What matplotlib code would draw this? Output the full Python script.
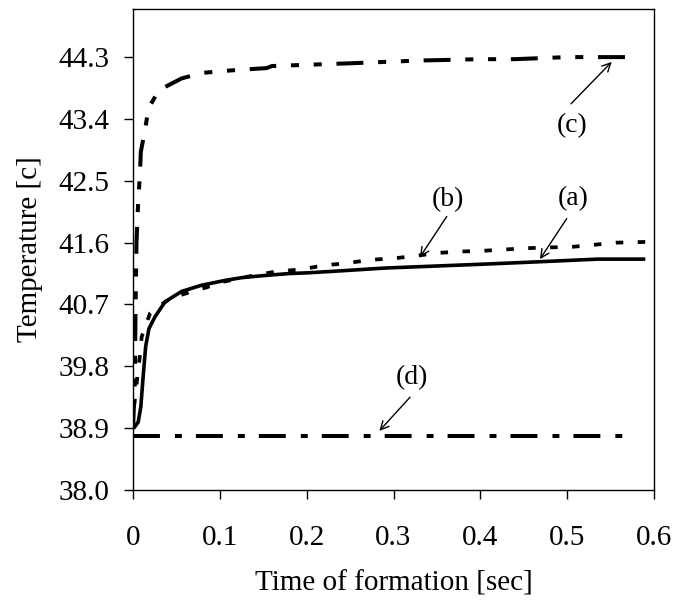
import matplotlib
matplotlib.use("Agg")
import matplotlib.pyplot as plt
from matplotlib.ticker import FixedLocator, FixedFormatter

plt.rcParams['font.family'] = ['Liberation Serif', 'DejaVu Serif']
plt.rcParams['lines.scale_dashes'] = False

# ---- data ----
t_a = [0, 0.0015, 0.006, 0.009, 0.012, 0.0146, 0.0184, 0.0253, 0.037, 0.056, 0.079,
       0.106, 0.125, 0.15, 0.18, 0.2, 0.24, 0.29, 0.35, 0.41, 0.465, 0.535, 0.59]
T_a = [38.9, 38.91, 38.99, 39.21, 39.70, 40.09, 40.35, 40.52, 40.74, 40.89, 40.98,
       41.05, 41.09, 41.12, 41.15, 41.16, 41.19, 41.23, 41.26, 41.29, 41.32, 41.36, 41.36]

t_b = [0, 0.001, 0.003, 0.005, 0.008, 0.010, 0.0196, 0.03, 0.045, 0.066, 0.085, 0.1,
       0.13, 0.165, 0.194, 0.22, 0.246, 0.273, 0.30, 0.327, 0.351, 0.376, 0.402, 0.428,
       0.455, 0.48, 0.507, 0.532, 0.557, 0.59]
T_b = [38.9, 39.2, 39.4, 39.65, 39.96, 40.23, 40.57, 40.68, 40.80, 40.88, 40.95, 41.02,
       41.10, 41.18, 41.21, 41.27, 41.30, 41.35, 41.37, 41.41, 41.45, 41.47, 41.48, 41.50,
       41.52, 41.53, 41.54, 41.57, 41.60, 41.61]

t_c = [0, 0.002, 0.003, 0.004, 0.006, 0.008, 0.009, 0.0138, 0.018, 0.03, 0.056, 0.08,
       0.106, 0.129, 0.154, 0.16, 0.25, 0.33, 0.40, 0.44, 0.50, 0.54, 0.58]
T_c = [38.9, 39.5, 40.7, 41.6, 42.2, 42.6, 42.92, 43.24, 43.56, 43.82, 43.99, 44.07,
       44.10, 44.12, 44.14, 44.17, 44.21, 44.25, 44.27, 44.27, 44.30, 44.30, 44.30]

t_d = [0, 0.571]
T_d = [38.79, 38.79]

x_ticks = [0, 0.1, 0.2, 0.3, 0.4, 0.5, 0.6]
x_tick_labels = ["0", "0.1", "0.2", "0.3", "0.4", "0.5", "0.6"]
y_ticks = [38.0, 38.9, 39.8, 40.7, 41.6, 42.5, 43.4, 44.3]
y_tick_labels = ["38.0", "38.9", "39.8", "40.7", "41.6", "42.5", "43.4", "44.3"]

labels = ["(a)", "(b)", "(c)", "(d)"]
label_text_pos = [(0.5071, 42.245), (0.3631, 42.22), (0.5052, 43.30), (0.3213, 39.63)]
label_tail_pos = [(0.4995, 41.95), (0.3613, 41.98), (0.5044, 43.62), (0.319, 39.35)]
label_head_pos = [(0.4687, 41.36), (0.3305, 41.39), (0.5513, 44.23), (0.2837, 38.86)]

# ---- figure ----
fig = plt.figure(figsize=(6.75, 6), dpi=100)
ax = fig.add_axes([133 / 675, 1 - 490 / 600, 521 / 675, 481 / 600])

ax.plot(t_a, T_a, color='black', lw=2.6, solid_capstyle='butt')
ax.plot(t_b, T_b, color='black', lw=2.7, linestyle=(0, (5.4, 10.4)))
ax.plot(t_c, T_c, color='black', lw=2.9,
        linestyle=(0, (19.4, 10.6, 5.8, 10.6, 5.8, 10.6)))
ax.plot(t_d, T_d, color='black', lw=2.9, linestyle=(0, (19.4, 10.8, 5.0, 10.1)))

for lab, tp, tl, hd in zip(labels, label_text_pos, label_tail_pos, label_head_pos):
    ax.annotate('', xy=hd, xytext=tl,
                arrowprops=dict(arrowstyle='->', color='black', lw=1.0,
                                shrinkA=0, shrinkB=0, mutation_scale=15))
    ax.text(tp[0], tp[1], lab, fontsize=20, ha='center', va='center')

ax.set_xlim(0, 0.6)
ax.set_ylim(38.0, 45.0)
ax.xaxis.set_major_locator(FixedLocator(x_ticks))
ax.xaxis.set_major_formatter(FixedFormatter(x_tick_labels))
ax.yaxis.set_major_locator(FixedLocator(y_ticks))
ax.yaxis.set_major_formatter(FixedFormatter(y_tick_labels))

ax.tick_params(axis='both', direction='out', length=6.5, width=1.0, labelsize=21,
               colors='black')
ax.tick_params(axis='x', pad=19)
ax.tick_params(axis='y', pad=10.5)
for s in ax.spines.values():
    s.set_linewidth(1.0)
    s.set_color('black')

ax.set_xlabel('Time of formation [sec]', fontsize=21)
ax.set_ylabel('Temperature [c]', fontsize=21)
ax.xaxis.set_label_coords(0.5, -0.168)
ax.xaxis.label.set_va('top')
ax.yaxis.set_label_coords((30 - 133) / 521, 0.5)
ax.yaxis.label.set_va('center')

fig.savefig('out.png', dpi=100)
